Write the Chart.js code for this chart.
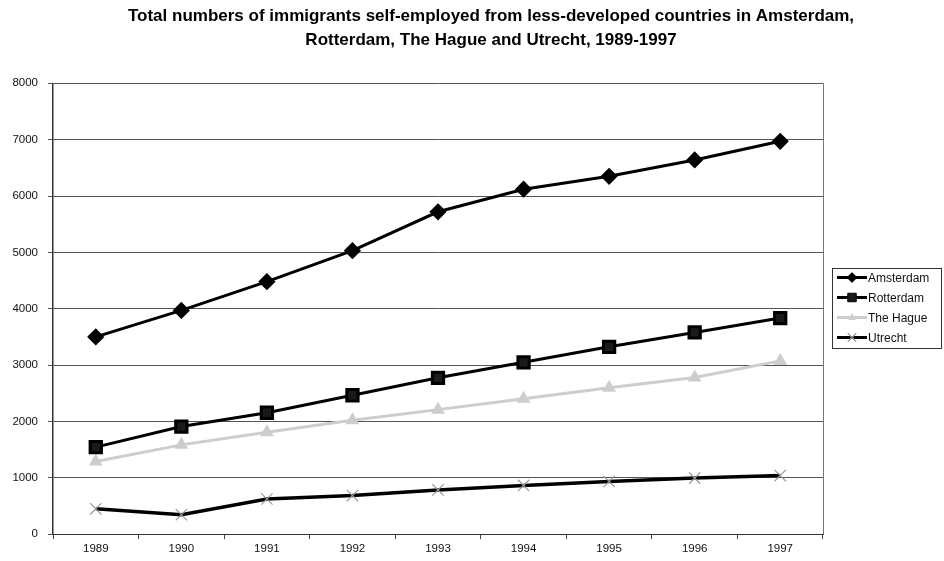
<!DOCTYPE html>
<html>
<head>
<meta charset="utf-8">
<script src="https://cdn.jsdelivr.net/npm/chart.js@4.4.1/dist/chart.umd.min.js"></script>
<style>
  html, body { margin: 0; padding: 0; background: #fff; }
  #wrap { width: 944px; height: 561px; }
</style>
</head>
<body>
<div id="wrap"><canvas id="myChart" width="944" height="561"></canvas></div>
<script>
(() => {
  'use strict'

// Years on the x axis
var years = ['1989', '1990', '1991', '1992', '1993', '1994', '1995', '1996', '1997'];

// Self-employed immigrants per city
var amsterdam = [3500, 3970, 4480, 5030, 5720, 6120, 6350, 6640, 6970];
var rotterdam = [1545, 1910, 2155, 2465, 2775, 3050, 3325, 3580, 3835];
var theHague  = [1290, 1585, 1810, 2020, 2210, 2405, 2600, 2780, 3075];
var utrecht   = [450, 345, 625, 685, 785, 865, 935, 995, 1040];

var yTicks = [0, 1000, 2000, 3000, 4000, 5000, 6000, 7000, 8000];

var fontFamily = "'Liberation Sans', Arial, sans-serif";

// Legend drawn as a box with line + marker samples, like the original
var boxLegend = {
  id: 'boxLegend',
  afterDraw: function (chart) {
    var ctx = chart.ctx;
    var x0 = 832, y0 = 268, w = 109, h = 80;
    ctx.save();
    ctx.strokeStyle = '#333';
    ctx.lineWidth = 1;
    ctx.strokeRect(x0 + 0.5, y0 + 0.5, w, h);
    ctx.font = '12px ' + fontFamily;
    ctx.textBaseline = 'middle';
    chart.data.datasets.forEach(function (ds, i) {
      var cy = y0 + 9.5 + i * 20;
      ctx.strokeStyle = ds.borderColor;
      ctx.lineWidth = 3;
      ctx.beginPath();
      ctx.moveTo(x0 + 5, cy);
      ctx.lineTo(x0 + 35, cy);
      ctx.stroke();
      ctx.fillStyle = ds.pointBackgroundColor;
      ctx.strokeStyle = ds.pointBorderColor;
      ctx.lineWidth = ds.pointBorderWidth || 1;
      Chart.helpers.drawPoint(ctx, {
        pointStyle: ds.pointStyle,
        radius: ds.pointRadius * 0.75,
        borderWidth: ds.pointBorderWidth || 1
      }, x0 + 20, cy);
      ctx.fillStyle = '#111';
      ctx.fillText(ds.label, x0 + 36, cy + 1);
    });
    ctx.restore();
  }
};

// Thin frame line on the right of the plot
var plotFrame = {
  id: 'plotFrame',
  beforeDatasetsDraw: function (chart) {
    var a = chart.chartArea;
    var ctx = chart.ctx;
    ctx.save();
    ctx.strokeStyle = '#777';
    ctx.lineWidth = 1;
    ctx.beginPath();
    ctx.moveTo(a.right + 0.5, a.top);
    ctx.lineTo(a.right + 0.5, a.bottom);
    ctx.stroke();
    ctx.restore();
  }
};

// The original title is centred a little right of the page centre
var titleShift = {
  id: 'titleShift',
  afterLayout: function (chart) {
    if (chart.titleBlock) {
      chart.titleBlock.left = 38;
    }
  }
};

var ctx = document.getElementById('myChart').getContext('2d');

var data = {
  labels: years,
  datasets: [{
    label: 'Amsterdam',
    data: amsterdam,
    borderColor: '#000',
    borderWidth: 3,
    pointStyle: 'rectRot',
    pointRadius: 6.5,
    pointBackgroundColor: '#000',
    pointBorderColor: '#000'
  }, {
    label: 'Rotterdam',
    data: rotterdam,
    borderColor: '#000',
    borderWidth: 3,
    pointStyle: 'rect',
    pointRadius: 8,
    pointBackgroundColor: '#1a1a1a',
    pointBorderColor: '#000'
  }, {
    label: 'The Hague',
    data: theHague,
    borderColor: '#cdcdcd',
    borderWidth: 3,
    pointStyle: 'triangle',
    pointRadius: 5,
    pointBackgroundColor: '#cdcdcd',
    pointBorderColor: '#cdcdcd'
  }, {
    label: 'Utrecht',
    data: utrecht,
    borderColor: '#000',
    borderWidth: 3.5,
    pointStyle: 'crossRot',
    pointRadius: 8,
    pointBorderWidth: 1.2,
    pointBackgroundColor: '#999',
    pointBorderColor: '#999'
  }]
};

var options = {
  responsive: false,
  animation: false,
  layout: {
    padding: { left: 0, right: 0, top: 0, bottom: 2 }
  },
  plugins: {
    legend: { display: false },
    tooltip: { enabled: false },
    title: {
      display: true,
      text: [
        'Total numbers of immigrants self-employed from less-developed countries in Amsterdam,',
        'Rotterdam, The Hague and Utrecht, 1989-1997'
      ],
      color: '#000',
      font: { family: fontFamily, size: 17, weight: 'bold', lineHeight: 1.42 },
      padding: { top: 4, bottom: 31 }
    }
  },
  scales: {
    x: {
      offset: true,
      grid: {
        offset: true,
        drawOnChartArea: false,
        drawTicks: true,
        tickLength: 5,
        color: '#444'
      },
      border: { color: '#333', width: 1 },
      ticks: {
        color: '#111',
        padding: 3,
        font: { family: fontFamily, size: 11.5 }
      }
    },
    y: {
      min: 0,
      max: 8000,
      afterBuildTicks: function (axis) {
        axis.ticks = yTicks.map(function (v) { return { value: v }; });
      },
      afterFit: function (axis) { axis.width = 53; },
      grid: {
        color: '#555',
        lineWidth: 1,
        tickLength: 5
      },
      border: { color: '#333', width: 1.5 },
      ticks: {
        color: '#111',
        padding: 10,
        font: { family: fontFamily, size: 11.5 },
        callback: function (value) { return String(value); }
      }
    },
    // empty axis on the right that only keeps room for the legend box
    side: {
      type: 'linear',
      position: 'right',
      min: 0,
      max: 1,
      grid: { drawOnChartArea: false, drawTicks: false },
      border: { display: false },
      ticks: { display: false },
      afterFit: function (axis) { axis.width = 121; }
    }
  }
};

var myChart = new Chart(ctx, {
  type: 'line',
  data: data,
  options: options,
  plugins: [plotFrame, boxLegend, titleShift]
});
})()
</script>
</body>
</html>
